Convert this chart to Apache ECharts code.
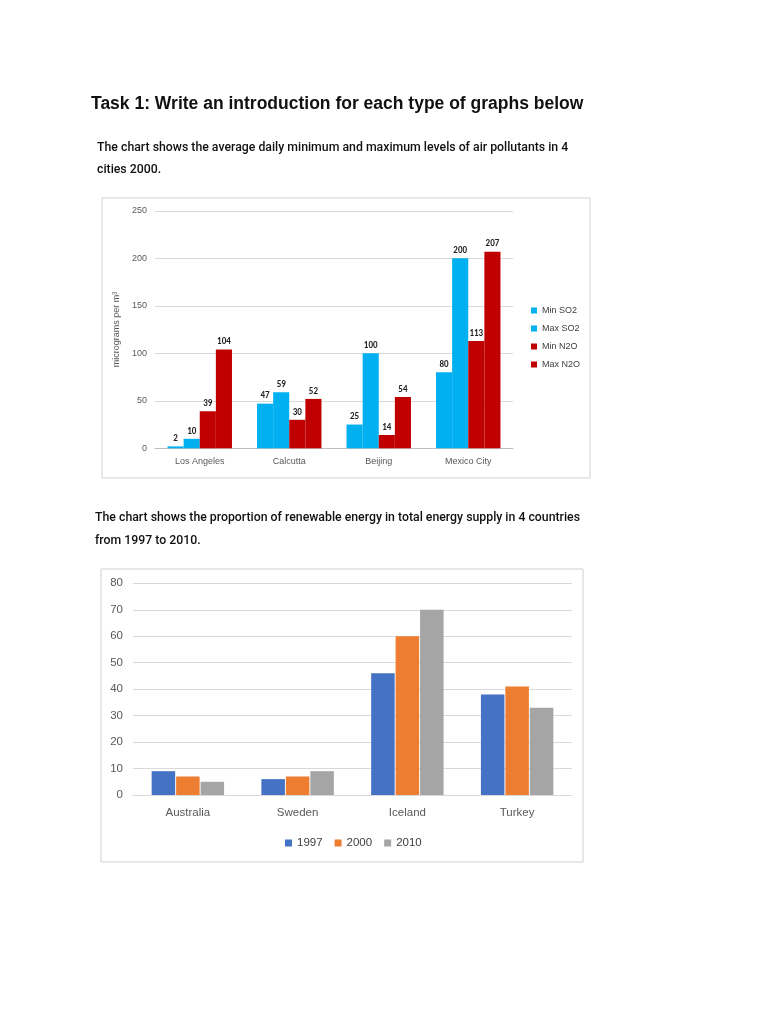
<!DOCTYPE html>
<html><head><meta charset="utf-8">
<script src="https://cdn.jsdelivr.net/npm/echarts@6/dist/echarts.min.js"></script>
<style>html,body{margin:0;padding:0;background:#fff}#c{width:768px;height:1024px}</style>
</head><body><div id="c"></div>
<script>
const cities = ['Los Angeles', 'Calcutta', 'Beijing', 'Mexico City'];
const minSO2 = [2, 47, 25, 80];
const maxSO2 = [10, 59, 100, 200];
const minN2O = [39, 30, 14, 113];
const maxN2O = [104, 52, 54, 207];
const countries = ['Australia', 'Sweden', 'Iceland', 'Turkey'];
const y1997 = [9, 6, 46, 38];
const y2000 = [7, 7, 60, 41];
const y2010 = [5, 9, 70, 33];

const chart = echarts.init(document.getElementById('c'));
const txt = (x, y, s, font) => ({type:'text', left:x, top:y, style:{text:s, font:font, fill:'#111'}});
const pFont = '500 12.3px Roboto';
const lbl = {show:true, position:'top', distance:3, fontSize:9, fontWeight:'bold', color:'#222', fontFamily:'Calibri, Carlito, Liberation Sans'};
const tickCol = '#595959';
option = {
  animation:false,
  backgroundColor:'#fff',
  graphic:[
    txt(91, 95, 'Task 1: Write an introduction for each type of graphs below', 'bold 17.5px "Liberation Sans"'),
    txt(97, 142, 'The chart shows the average daily minimum and maximum levels of air pollutants in 4', pFont),
    txt(97, 164, 'cities 2000.', pFont),
    txt(95, 512, 'The chart shows the proportion of renewable energy in total energy supply in 4 countries', pFont),
    txt(95, 535, 'from 1997 to 2010.', pFont),
    {type:'rect', shape:{x:102, y:198, width:488, height:280}, style:{fill:'none', stroke:'#d0d0d0', lineWidth:1}},
    {type:'rect', shape:{x:101, y:569, width:482, height:293}, style:{fill:'none', stroke:'#d0d0d0', lineWidth:1}}
  ],
  grid:[
    {left:155, top:210.8, width:358, height:237.5},
    {left:133, top:583.3, width:439, height:211.7}
  ],
  legend:[
    {orient:'vertical', left:526, top:301, itemWidth:6, itemHeight:6, itemGap:9, icon:'rect',
     textStyle:{fontSize:9, color:'#404040'}, data:['Min SO2','Max SO2','Min N2O','Max N2O']},
    {orient:'horizontal', left:280, top:832, itemWidth:7, itemHeight:7, itemGap:12, icon:'rect',
     textStyle:{fontSize:11.5, color:'#404040'}, data:['1997','2000','2010']}
  ],
  xAxis:[
    {type:'category', gridIndex:0, data:cities, axisLine:{lineStyle:{color:'#bfbfbf'}},
     axisTick:{lineStyle:{color:'#bfbfbf'}, length:4}, axisLabel:{fontSize:9, color:tickCol, margin:9}},
    {type:'category', gridIndex:1, data:countries, axisLine:{lineStyle:{color:'#d9d9d9'}},
     axisTick:{lineStyle:{color:'#d9d9d9'}, length:4}, axisLabel:{fontSize:11.5, color:tickCol, margin:12}}
  ],
  yAxis:[
    {type:'value', gridIndex:0, min:0, max:250, interval:50, name:'micrograms per m³', nameLocation:'middle',
     nameGap:34, nameTextStyle:{fontSize:9, color:tickCol},
     axisLine:{show:false}, axisTick:{show:false}, axisLabel:{fontSize:9, color:tickCol, margin:8},
     splitLine:{lineStyle:{color:'#d9d9d9'}}},
    {type:'value', gridIndex:1, min:0, max:80, interval:10,
     axisLine:{show:false}, axisTick:{show:false}, axisLabel:{fontSize:11.5, color:tickCol, margin:10},
     splitLine:{lineStyle:{color:'#d9d9d9'}}}
  ],
  series:[
    {name:'Min SO2', type:'bar', xAxisIndex:0, yAxisIndex:0, data:minSO2, barGap:'0%', barCategoryGap:'28%', itemStyle:{color:'#00B0F0'}, label:lbl},
    {name:'Max SO2', type:'bar', xAxisIndex:0, yAxisIndex:0, data:maxSO2, barGap:'0%', itemStyle:{color:'#00B0F0'}, label:lbl},
    {name:'Min N2O', type:'bar', xAxisIndex:0, yAxisIndex:0, data:minN2O, barGap:'0%', itemStyle:{color:'#C00000'}, label:lbl},
    {name:'Max N2O', type:'bar', xAxisIndex:0, yAxisIndex:0, data:maxN2O, barGap:'0%', itemStyle:{color:'#C00000'}, label:lbl},
    {name:'1997', type:'bar', xAxisIndex:1, yAxisIndex:1, data:y1997, barGap:'4%', barCategoryGap:'34%', itemStyle:{color:'#4472C4'}},
    {name:'2000', type:'bar', xAxisIndex:1, yAxisIndex:1, data:y2000, barGap:'4%', itemStyle:{color:'#ED7D31'}},
    {name:'2010', type:'bar', xAxisIndex:1, yAxisIndex:1, data:y2010, barGap:'4%', itemStyle:{color:'#A5A5A5'}}
  ]
};
chart.setOption(option);
</script></body></html>
